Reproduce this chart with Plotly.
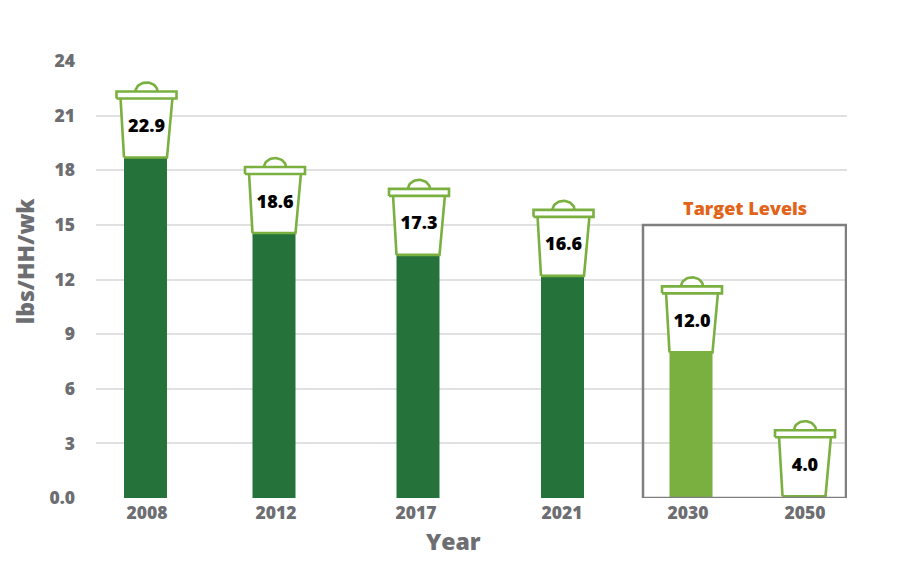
import numpy as np
import plotly.graph_objects as go

years = ["2008", "2012", "2017", "2021", "2030", "2050"]
labels = ["22.9", "18.6", "17.3", "16.6", "12.0", "4.0"]
fill_levels = [18.7, 14.55, 13.35, 12.2, 8.0, 0.1]
y_ticks = [0, 3, 6, 9, 12, 15, 18, 21, 24]
y_tick_text = ["0.0", "3", "6", "9", "12", "15", "18", "21", "24"]

# Horizontal axis runs in screen-like units so the uneven slots can be kept.
bar_slots = [145.5, 274, 418, 562.5, 691, 804]
tick_slots = [147, 276, 416, 562, 688, 805]

W, H = 892, 560
L, R, T, B = 88, 53, 53, 70
PX = 24 / (H - T - B)  # data units per pixel vertically

DARK = "#25733B"
LIGHT = "#7AB040"
GREY = "#6D6E71"
FONT = "Open Sans"

bar_colors = [DARK, DARK, DARK, DARK, LIGHT, LIGHT]

fig = go.Figure()
fig.add_trace(go.Bar(x=bar_slots, y=fill_levels, width=43,
                     marker=dict(color=bar_colors, line_width=0), hoverinfo="skip"))


def add_bin(c, base):
    u = lambda px: base + px * PX
    t = np.linspace(0, np.pi, 30)
    fig.add_trace(go.Scatter(x=c + 1 + 11 * np.cos(t), y=u(66 + 9 * np.sin(t)),
                             mode="lines", fill="toself", fillcolor="white",
                             line=dict(color=LIGHT, width=2.6), hoverinfo="skip"))
    fig.add_trace(go.Scatter(x=[c - 21.5, c + 21.5, c + 27, c - 25, c - 21.5],
                             y=[u(0), u(0), u(60), u(60), u(0)],
                             mode="lines", fill="toself", fillcolor="white",
                             line=dict(color=LIGHT, width=2.6), hoverinfo="skip"))
    fig.add_trace(go.Scatter(x=[c - 29, c + 31, c + 31, c - 29, c - 29],
                             y=[u(59), u(59), u(66), u(66), u(59)],
                             mode="lines", fill="toself", fillcolor="white",
                             line=dict(color=LIGHT, width=2.6), hoverinfo="skip"))


for c, f in zip(bar_slots, fill_levels):
    add_bin(c, f)

fig.add_trace(go.Scatter(x=[c + 1 for c in bar_slots], y=[f + 30 * PX for f in fill_levels],
                         mode="text", text=labels, cliponaxis=False,
                         textfont=dict(family=FONT, size=18, color="black", weight=800),
                         hoverinfo="skip"))

fig.add_shape(type="rect", xref="x", yref="y", x0=643, x1=846, y0=0, y1=15,
              line=dict(color="#7F7F7F", width=2.5), layer="above")
fig.add_annotation(x=744.5, y=15.9, text="Target Levels", showarrow=False,
                   font=dict(family=FONT, size=18, color="#E2631A", weight=800))
# Axis titles sit off-centre in the reference, so they are placed as annotations.
fig.add_annotation(x=453, y=0, yref="y", yshift=-43, text="Year", showarrow=False,
                   font=dict(family=FONT, size=23, color=GREY, weight=800))
fig.add_annotation(xref="paper", x=0, xshift=-71, y=13.0, text="lbs/HH/wk", textangle=-90,
                   showarrow=False, xanchor="center",
                   font=dict(family=FONT, size=23, color=GREY, weight=800))

fig.update_layout(
    width=W, height=H, autosize=False, showlegend=False,
    margin=dict(l=L, r=R, t=T, b=B),
    paper_bgcolor="white", plot_bgcolor="white",
    xaxis=dict(range=[96, 847], tickmode="array", tickvals=tick_slots, ticktext=years,
               showgrid=False, zeroline=False, showline=False, ticks="",
               ticklabelstandoff=2,
               tickfont=dict(family=FONT, size=17.5, color=GREY, weight=800)),
    yaxis=dict(range=[0, 24], tickmode="array", tickvals=y_ticks, ticktext=y_tick_text,
               showgrid=True, gridcolor="#E0E0E0", gridwidth=2, zeroline=False,
               showline=False, ticks="", ticklabelstandoff=20,
               tickfont=dict(family=FONT, size=17.5, color=GREY, weight=800)),
)

fig.write_html("out.html")
